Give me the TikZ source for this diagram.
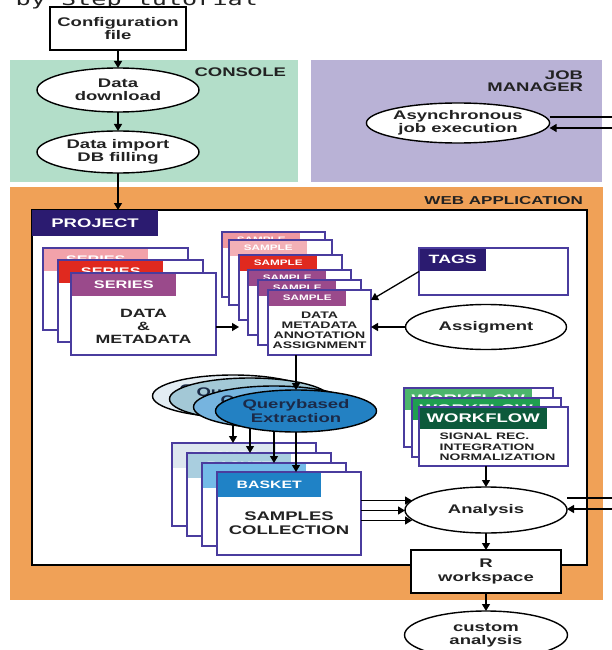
\documentclass[tikz,border=0pt]{standalone}
\usepackage{fontspec}
\setmainfont{Liberation Sans}[FakeStretch=1.48]
\newfontfamily\tutfont{DejaVu Sans Mono}[FakeStretch=1.48]
\usepackage{tikz}
\usetikzlibrary{shapes,arrows.meta,positioning}

\definecolor{ink}{HTML}{222222}
\definecolor{conscol}{HTML}{B3DEC9}
\definecolor{jobcol}{HTML}{B9B2D6}
\definecolor{webcol}{HTML}{F0A157}
\definecolor{navy}{HTML}{2B1B70}
\definecolor{cardcol}{HTML}{4A3C9E}
\definecolor{serpink}{HTML}{F2A2AA}
\definecolor{serred}{HTML}{E0291F}
\definecolor{serpurple}{HTML}{9A4A8B}
\definecolor{smppink}{HTML}{EE98A0}
\definecolor{smppale}{HTML}{F3B0B6}
\definecolor{bsk1}{HTML}{DDE7EF}
\definecolor{bsk2}{HTML}{A9CEDF}
\definecolor{bsk3}{HTML}{74BBE8}
\definecolor{bsk4}{HTML}{1F82C6}
\definecolor{qry1}{HTML}{E3EDF3}
\definecolor{qry2}{HTML}{A3C8D6}
\definecolor{qry3}{HTML}{76B4DF}
\definecolor{qry4}{HTML}{2381C3}
\definecolor{qtext}{HTML}{1B2A48}
\definecolor{wf1}{HTML}{4CB56C}
\definecolor{wf2}{HTML}{1F9E50}
\definecolor{wf3}{HTML}{0C5A3B}

\begin{document}
\begin{tikzpicture}[x=1pt, y=-1pt,
    every node/.style={inner sep=0pt, outer sep=0pt, text=ink, font=\bfseries\fontsize{12.5}{13.5}\selectfont},
    ell/.style={ellipse, draw, line width=1.4pt, fill=white, minimum width=162, minimum height=44, align=center},
    qell/.style={ellipse, draw, line width=1.4pt, minimum width=161, minimum height=42, align=center, text=qtext},
    sbox/.style={rectangle, draw, line width=1.6pt, fill=white, align=center},
    card/.style={rectangle, draw=cardcol, line width=1.5pt, fill=white, anchor=north west},
    tab/.style={rectangle, anchor=north west, text=white},
    arrow/.style={-{Triangle[length=7pt,width=8pt]}, line width=1.3pt},
    link/.style={line width=1.3pt}
]
    \useasboundingbox (0,0) rectangle (611,650);
    \node[font=\tutfont\fontsize{17}{17}\selectfont, anchor=base east] (tut) at (258,6) {Step by Step tutorial};

    % areas
    \fill[conscol] (10,60) rectangle (298,182);
    \fill[jobcol] (311,60) rectangle (602,182);
    \fill[webcol] (10,187) rectangle (603,600);
    \node[anchor=east] (conslbl) at (286,72) {CONSOLE};
    \node[anchor=east, align=right, font=\bfseries\fontsize{12.5}{12.5}\selectfont] (joblbl) at (583,81) {JOB\\MANAGER};
    \node[anchor=east, font=\bfseries\fontsize{11.5}{12}\selectfont] (weblbl) at (583,201) {WEB APPLICATION};

    % console chain
    \node[sbox, minimum width=136, minimum height=43] (conf) at (118,28.5) {Configuration\\file};
    \node[ell, below=18pt of conf] (dl) {Data\\download};
    \node[ell, minimum height=42, below=19pt of dl] (dbi) {Data import\\DB filling};
    \draw[arrow] (conf) -- (dl);
    \draw[arrow] (dl) -- (dbi);

    \node[ell, minimum height=40] (async) at (458,123) {Asynchronous\\job execution};

    % web application
    \draw[line width=1.5pt, fill=white] (32,210) rectangle (587,565);
    \node[tab, fill=navy, minimum width=126, minimum height=26] (proj) at (32,210) {PROJECT};
    \draw[arrow] (dbi.south) -- (dbi.south |- proj.north);

    \foreach \i/\x/\y/\c in {1/43/248/serpink, 2/58/260/serred, 3/71/273/serpurple}{
        \node[card, minimum width=145, minimum height=82] (ser\i) at (\x,\y) {};
        \node[tab, fill=\c, minimum width=104, minimum height=22, font=\bfseries\fontsize{11}{11}\selectfont] (sertab\i) at ([shift={(0.75,0.75)}]ser\i.north west) {SERIES};
    }
    \node[align=center, font=\bfseries\fontsize{12}{13}\selectfont] (serbody) at ([yshift=-12pt]ser3.center) {DATA\\\&\\METADATA};

    \foreach \i/\x/\y/\c in {1/222/232/smppink, 2/229/240/smppale, 3/239/255/serred, 4/248/270/serpurple, 5/258/280/serpurple, 6/268/290/serpurple}{
        \node[card, minimum width=103, minimum height=65] (smp\i) at (\x,\y) {};
        \node[tab, fill=\c, minimum width=77, minimum height=15, font=\bfseries\fontsize{7.9}{8}\selectfont] (smptab\i) at ([shift={(0.75,0.75)}]smp\i.north west) {SAMPLE};
    }
    \node[align=center, font=\bfseries\fontsize{9.5}{10}\selectfont] (smpbody) at ([yshift=-7.5pt]smp6.center) {DATA\\METADATA\\ANNOTATION\\ASSIGNMENT};
    \draw[arrow] ([yshift=-13pt]ser3.east) -- ([yshift=-13pt]ser3.east -| smp3.west);

    \node[card, minimum width=149, minimum height=47] (tags) at (419,248) {};
    \node[tab, fill=navy, minimum width=66, minimum height=22, font=\bfseries\fontsize{12}{12}\selectfont] (tagtab) at ([shift={(0.75,0.75)}]tags.north west) {TAGS};
    \node[ell, minimum width=161, minimum height=45] (assig) at (486,327) {Assigment};
    \draw[arrow] (tags.west) -- ([yshift=-10pt]smp6.north east);
    \draw[arrow] (assig) -- (assig -| smp6.east);

    % baskets and queries
    \foreach \i/\x/\y/\c in {1/172/443/bsk1, 2/187/453/bsk2, 3/202/463/bsk3, 4/217/472/bsk4}{
        \node[card, minimum width=144, minimum height=83] (bsk\i) at (\x,\y) {};
        \node[tab, fill=\c, minimum width=103, minimum height=24, font=\bfseries\fontsize{10.7}{11}\selectfont] (bsktab\i) at ([shift={(0.75,0.75)}]bsk\i.north west) {BASKET};
    }
    \node[align=center, font=\bfseries\fontsize{12.5}{14}\selectfont] (bskbody) at ([yshift=-10pt]bsk4.center) {SAMPLES\\COLLECTION};

    \foreach \i/\x/\y/\c in {1/233/396/qry1, 2/250/399/qry2, 3/274/407/qry3, 4/296/411/qry4}{
        \node[qell, fill=\c] (qry\i) at (\x,\y) {Querybased\\Extraction};
        \draw[arrow] (qry\i.south) -- (qry\i.south |- bsk\i.north);
    }
    \draw[arrow] (qry4.north |- smp6.south) -- (qry4.north);

    % workflows and analysis
    \foreach \i/\x/\y/\c in {1/404/388/wf1, 2/412/398/wf2, 3/419/407/wf3}{
        \node[card, minimum width=149, minimum height=59] (wfl\i) at (\x,\y) {};
        \node[tab, fill=\c, minimum width=127, minimum height=21, font=\bfseries\fontsize{12.5}{12.5}\selectfont] (wfltab\i) at ([shift={(0.75,0.75)}]wfl\i.north west) {WORKFLOW};
    }
    \node[align=left, font=\bfseries\fontsize{9.4}{10.5}\selectfont] (wflbody) at ([shift={(4,10.5)}]wfl3.center) {SIGNAL REC.\\INTEGRATION\\NORMALIZATION};

    \node[ell, minimum width=162, minimum height=46] (analysis) at (486,510) {Analysis};
    \draw[arrow] (analysis.north |- wfl3.south) -- (analysis.north);
    \foreach \dy/\dx in {13/7, 3/0, -7/7}{
        \draw[arrow] ([yshift=\dy pt]bsk4.east) -- ([shift={(\dx,-\dy)}]analysis.west |- bsk4.east);
    }

    \node[sbox, minimum width=150, minimum height=43, below=17pt of analysis] (rws) {R\\workspace};
    \node[ell, minimum width=163, minimum height=48, below=18pt of rws] (custom) {custom\\analysis};
    \draw[arrow] (analysis) -- (rws);
    \draw[arrow] (rws) -- (custom);

    % job manager loop
    \draw[link] ([yshift=6pt]async.east) -- ++(80,0);
    \draw[arrow, {Triangle[length=7pt,width=8pt]}-{Triangle[length=7pt,width=8pt]}] ([yshift=-5pt]async.east) -- ++(70,0) |- ([yshift=1pt]analysis.east);
    \draw[link] ([yshift=12pt]analysis.east) -- ++(60,0);
\end{tikzpicture}
\end{document}
